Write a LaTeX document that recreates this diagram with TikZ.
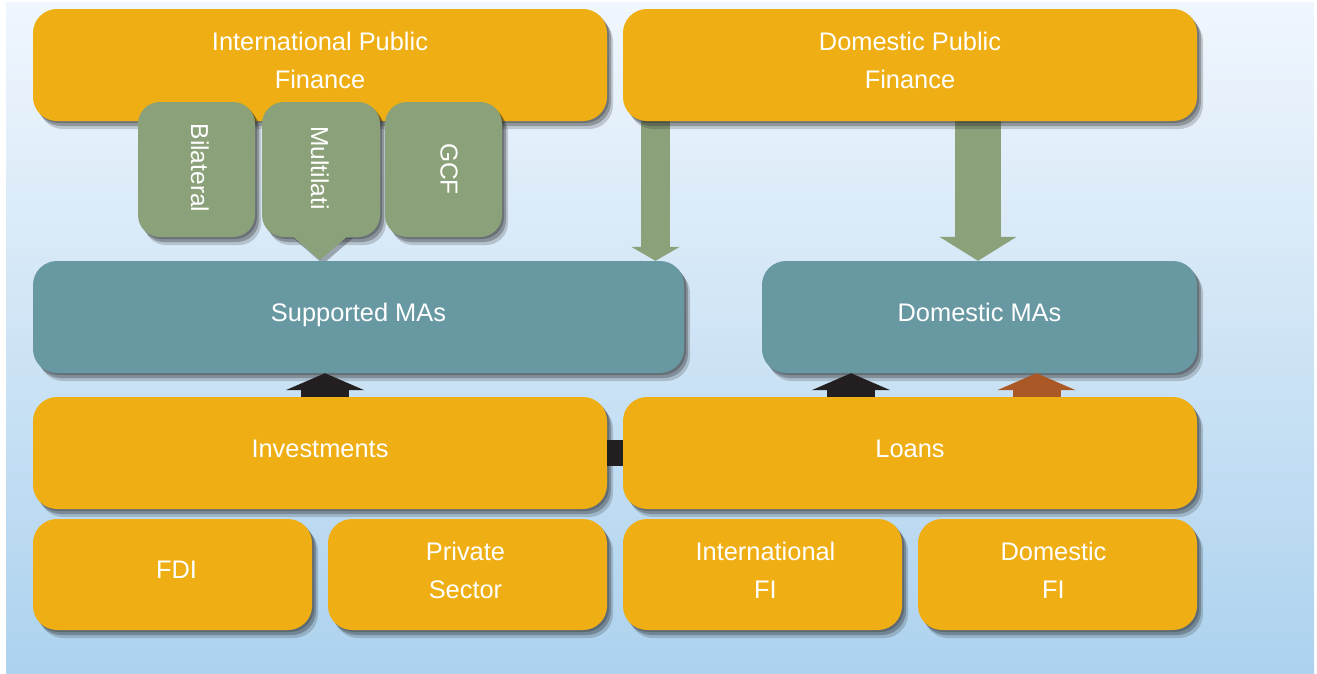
\documentclass[tikz,border=0pt]{standalone}
\usepackage{fontspec}
\setmainfont{Liberation Sans}
\usetikzlibrary{shadows,arrows.meta}
\definecolor{orangeC}{HTML}{EFAF14}
\definecolor{greenC}{HTML}{8BA17A}
\definecolor{tealC}{HTML}{6899A3}
\definecolor{bgtop}{HTML}{F0F6FD}
\definecolor{bgbot}{HTML}{ADD2EE}
\definecolor{darkC}{HTML}{231F20}
\definecolor{rustC}{HTML}{AA5826}
\pgfdeclarelayer{bg}
\pgfsetlayers{bg,main}
\tikzset{
  soft/.style={
    drop shadow={shadow xshift=2pt,shadow yshift=-2pt,opacity=.30,fill=black!85},
    drop shadow={shadow xshift=4pt,shadow yshift=-5pt,opacity=.30,fill=black!85},
    drop shadow={shadow xshift=6pt,shadow yshift=-8pt,opacity=.20,fill=black!85}},
  box/.style={soft, rounded corners=24pt, inner sep=0pt},
  obox/.style={box, fill=orangeC},
  tbox/.style={box, fill=tealC},
  lbl/.style={text=white, font=\fontsize{25.4}{38}\selectfont, align=center, inner sep=0pt},
  lbl1/.style={lbl, text height=18pt, text depth=5pt, yshift=2.4pt},
  lbl2/.style={lbl, yshift=4.5pt},
  tab/.style={soft, fill=greenC, rounded corners=22pt, minimum width=117pt, minimum height=135pt, inner sep=0pt},
  tabtxt/.style={text=white, font=\fontsize{24.5}{28}\selectfont, rotate=-90, inner sep=0pt},
  garrowA/.style={draw=greenC, line width=29pt, -{Triangle[width=48pt,length=14pt,fill=greenC]}},
  garrowB/.style={draw=greenC, line width=46pt, -{Triangle[width=76pt,length=24pt,fill=greenC]}},
  barrow/.style={draw=darkC, line width=48pt, -{Triangle[width=78pt,length=17pt,fill=darkC]}},
  rarrow/.style={draw=rustC, line width=48pt, -{Triangle[width=78pt,length=17pt,fill=rustC]}},
}
\begin{document}
\begin{tikzpicture}[x=1pt,y=-1pt]
\useasboundingbox (0,0) rectangle (1317,673);

% top row
\node[obox, minimum width=574pt, minimum height=112pt] (ipf) at (320,65) {};
\node[lbl2] (ipft) at (ipf.center) {International Public\\Finance};
\node[obox, minimum width=574pt, minimum height=112pt] (dpf) at (910,65) {};
\node[lbl2] (dpft) at (dpf.center) {Domestic Public\\Finance};

% tabs
\node[tab] (bil) at (196.5,169.5) {};
\node[tab, minimum width=118pt] (mul) at (321,169.5) {};
\fill[greenC, drop shadow={shadow xshift=3pt,shadow yshift=-4pt,opacity=.35,fill=black!85}]
  (290,234) -- (350,234) -- (320,260) -- cycle;
\fill[greenC] (285,228) rectangle (355,237);
\node[tab] (gcf) at (443.5,169.5) {};
\node[tabtxt] (bilt) at (200,168) {Bilateral};
\node[tabtxt] (mult) at (320,168) {Multilati};
\node[tabtxt] (gcft) at (449,169) {GCF};

% MAs
\node[tbox, minimum width=651pt, minimum height=112pt] (sma) at (358.5,317) {};
\node[lbl1] (smat) at (sma.center) {Supported MAs};
\node[tbox, minimum width=435pt, minimum height=112pt] (dma) at (979.5,317) {};
\node[lbl1] (dmat) at (dma.center) {Domestic MAs};

% investments / loans
\node[obox, minimum width=574pt, minimum height=112pt] (inv) at (320,453) {};
\node[lbl1] (invt) at (inv.center) {Investments};
\node[obox, minimum width=574pt, minimum height=112pt] (loans) at (910,453) {};
\node[lbl1] (loanst) at (loans.center) {Loans};

% bottom row
\node[obox, minimum width=279pt, minimum height=111pt] (fdi) at (172.5,574.5) {};
\node[lbl1] (fdit) at ([xshift=4pt]fdi.center) {FDI};
\node[obox, minimum width=279pt, minimum height=111pt] (priv) at (467.5,574.5) {};
\node[lbl2] (privt) at ([xshift=-2pt]priv.center) {Private\\Sector};
\node[obox, minimum width=279pt, minimum height=111pt] (ifi) at (762.5,574.5) {};
\node[lbl2] (ifit) at ([xshift=3pt]ifi.center) {International\\FI};
\node[obox, minimum width=279pt, minimum height=111pt] (dfi) at (1057.5,574.5) {};
\node[lbl2] (dfit) at ([xshift=-4pt]dfi.center) {Domestic\\FI};

\begin{pgfonlayer}{bg}
  \shade[top color=bgtop, bottom color=bgbot] (6,2) rectangle (1314,673);
  \draw[garrowA] (655.5,0 |- dpf.south) -- (655.5,0 |- sma.north);
  \draw[garrowB] (978,0 |- dpf.south) -- (978,0 |- dma.north);
\end{pgfonlayer}

% black / rust arrows
\draw[barrow] (325,0 |- inv.north) -- (325,0 |- sma.south);
\draw[barrow] (851,0 |- loans.north) -- (851,0 |- dma.south);
\draw[rarrow] (1036.5,0 |- loans.north) -- (1036.5,0 |- dma.south);
\draw[darkC, line width=26pt] (inv.east) -- (loans.west);
\end{tikzpicture}
\end{document}
